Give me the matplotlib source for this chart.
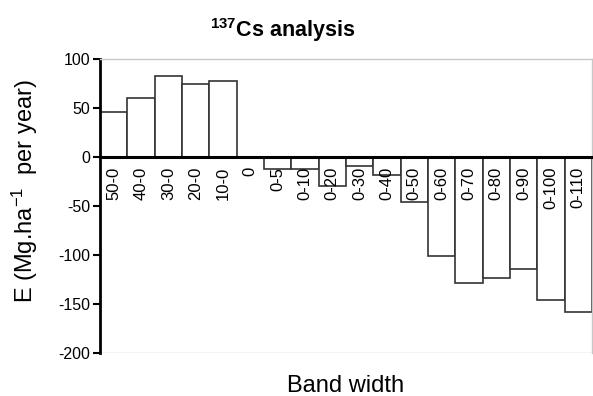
import matplotlib
matplotlib.use("Agg")
import matplotlib.pyplot as plt

plt.rcParams['font.family'] = ['Liberation Sans', 'DejaVu Sans']

bands = ["50-0", "40-0", "30-0", "20-0", "10-0", "0", "0-5", "0-10", "0-20",
         "0-30", "0-40", "0-50", "0-60", "0-70", "0-80", "0-90", "0-100", "0-110"]
erosion = [46, 60, 82.5, 74.5, 77.5, -1.5, -12, -12, -29.5,
           -9.5, -18, -45.5, -101, -128.5, -123, -114, -146, -158]
yticks = [100, 50, 0, -50, -100, -150, -200]

W, H = 593, 396
fig = plt.figure(figsize=(W / 100, H / 100), dpi=100)
L, R, T, B = 100, 592, 59, 353
ax = fig.add_axes([L / W, 1 - B / H, (R - L) / W, (B - T) / H])

x = list(range(len(bands)))
ax.bar(x, erosion, width=1.0, color='white', edgecolor='#333333', linewidth=1.2, zorder=1)

ax.set_xlim(-0.5, len(bands) - 0.5)
ax.set_ylim(-200, 100)
ax.set_yticks(yticks)
ax.set_yticklabels([str(v) for v in yticks], fontsize=11.5)

ax.spines['bottom'].set_position(('data', 0))
ax.spines['bottom'].set_linewidth(2.2)
ax.spines['bottom'].set_color('black')
ax.spines['bottom'].set_zorder(3)
ax.spines['left'].set_linewidth(2.0)
ax.spines['left'].set_color('black')
for s in ['top', 'right']:
    ax.spines[s].set_color('#c8c8c8')
    ax.spines[s].set_linewidth(1.0)
ax.axhline(-200, color='#c8c8c8', linewidth=1.0, zorder=0)

ax.set_xticks(x)
ax.set_xticklabels(bands, rotation=90, fontsize=12, va='top')
ax.tick_params(axis='x', length=0, pad=7)
ax.tick_params(axis='y', length=5, width=1.5, pad=2, direction='out')

fig.text(283 / W, 1 - 30 / H, r"$\mathregular{^{137}}$Cs analysis", ha='center', va='center',
         fontsize=15.5, fontweight='bold')
fig.text(346 / W, 1 - 386 / H, "Band width", ha='center', va='center', fontsize=17)
fig.text(25 / W, 1 - 191 / H, r"E (Mg.ha$\mathregular{^{-1}}$  per year)", ha='center', va='center',
         rotation=90, fontsize=17)

fig.savefig("out.png", dpi=100)
